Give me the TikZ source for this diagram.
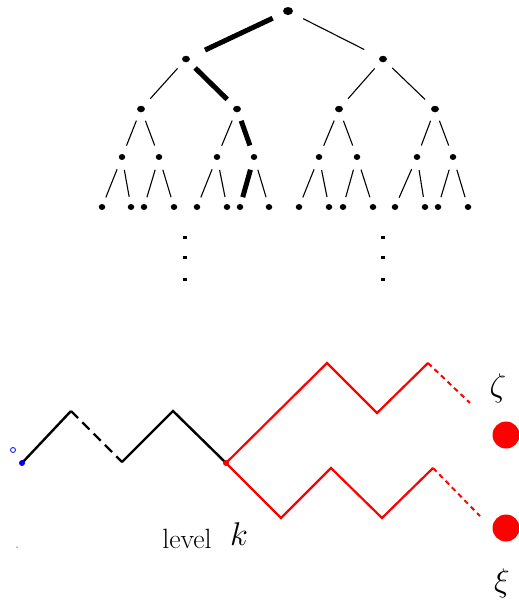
\documentclass[tikz,border=0pt]{standalone}
\usetikzlibrary{shapes.geometric}
\begin{document}
\begin{tikzpicture}[x=1pt,y=-1pt,
  bigdot/.style={ellipse,fill=black,inner sep=0pt,minimum width=10pt,minimum height=8pt},
  middot/.style={ellipse,fill=black,inner sep=0pt,minimum width=8pt,minimum height=6.5pt},
  smalldot/.style={ellipse,fill=black,inner sep=0pt,minimum width=6.5pt,minimum height=6pt},
  elldot/.style={rectangle,fill=black,inner sep=0pt,minimum width=4pt,minimum height=3pt},
  thinedge/.style={line width=1.1pt,shorten <=9pt,shorten >=9pt},
  thickedge/.style={line width=5pt,shorten <=9pt,shorten >=9pt},
  walk/.style={line width=2.4pt,line join=miter},
  redwalk/.style={line width=2.2pt,red,line join=miter},
  reddash/.style={line width=2pt,red,dash pattern=on 5pt off 4pt},
  blackdash/.style={line width=2.4pt,dash pattern=on 10pt off 6pt},
  lbl/.style={inner sep=0pt,anchor=center,font=\Huge}
]
\useasboundingbox (0,0) rectangle (519,603);
% ---------------- tree ----------------
\node[bigdot] (r) at (288,11) {};
\node[middot] (n0) at (186,59) {};
\node[middot] (n1) at (383,59) {};
\node[middot] (n00) at (141,109) {};
\node[middot] (n01) at (237,109) {};
\node[middot] (n10) at (339,109) {};
\node[middot] (n11) at (435,109) {};
\node[smalldot] (n000) at (122,157) {};
\node[smalldot] (n001) at (159,157) {};
\node[smalldot] (n010) at (217,157) {};
\node[smalldot] (n011) at (254,157) {};
\node[smalldot] (n100) at (319,157) {};
\node[smalldot] (n101) at (357,157) {};
\node[smalldot] (n110) at (417,157) {};
\node[smalldot] (n111) at (453,157) {};
\node[smalldot] (n0000) at (102,207) {};
\node[smalldot] (n0001) at (131,207) {};
\node[smalldot] (n0010) at (144,207) {};
\node[smalldot] (n0011) at (174,207) {};
\node[smalldot] (n0100) at (197,207) {};
\node[smalldot] (n0101) at (227,207) {};
\node[smalldot] (n0110) at (240,207) {};
\node[smalldot] (n0111) at (269,207) {};
\node[smalldot] (n1000) at (299,207) {};
\node[smalldot] (n1001) at (329,207) {};
\node[smalldot] (n1010) at (343,207) {};
\node[smalldot] (n1011) at (373,207) {};
\node[smalldot] (n1100) at (395,207) {};
\node[smalldot] (n1101) at (425,207) {};
\node[smalldot] (n1110) at (438,207) {};
\node[smalldot] (n1111) at (468,207) {};
% edges
\draw[thickedge,shorten <=12pt,shorten >=17pt] (r) -- (n0);
\draw[thinedge,shorten <=12pt,shorten >=17pt] (r) -- (n1);
\draw[thinedge,shorten <=9pt,shorten >=10pt] (n0) -- (n00);
\draw[thickedge,shorten <=9pt,shorten >=10pt] (n0) -- (n01);
\draw[thinedge,shorten <=9pt,shorten >=10pt] (n1) -- (n10);
\draw[thinedge,shorten <=9pt,shorten >=10pt] (n1) -- (n11);
\draw[thinedge] (n00) -- (n000);
\draw[thinedge] (n00) -- (n001);
\draw[thinedge] (n01) -- (n010);
\draw[thickedge] (n01) -- (n011);
\draw[thinedge] (n10) -- (n100);
\draw[thinedge] (n10) -- (n101);
\draw[thinedge] (n11) -- (n110);
\draw[thinedge] (n11) -- (n111);
\draw[thinedge,shorten <=10pt,shorten >=7pt] (n000) -- (n0000);
\draw[thinedge,shorten <=10pt,shorten >=7pt] (n000) -- (n0001);
\draw[thinedge,shorten <=10pt,shorten >=7pt] (n001) -- (n0010);
\draw[thinedge,shorten <=10pt,shorten >=7pt] (n001) -- (n0011);
\draw[thinedge,shorten <=10pt,shorten >=7pt] (n010) -- (n0100);
\draw[thinedge,shorten <=10pt,shorten >=7pt] (n010) -- (n0101);
\draw[thickedge,shorten <=10pt,shorten >=7pt] (n011) -- (n0110);
\draw[thinedge,shorten <=10pt,shorten >=7pt] (n011) -- (n0111);
\draw[thinedge,shorten <=10pt,shorten >=7pt] (n100) -- (n1000);
\draw[thinedge,shorten <=10pt,shorten >=7pt] (n100) -- (n1001);
\draw[thinedge,shorten <=10pt,shorten >=7pt] (n101) -- (n1010);
\draw[thinedge,shorten <=10pt,shorten >=7pt] (n101) -- (n1011);
\draw[thinedge,shorten <=10pt,shorten >=7pt] (n110) -- (n1100);
\draw[thinedge,shorten <=10pt,shorten >=7pt] (n110) -- (n1101);
\draw[thinedge,shorten <=10pt,shorten >=7pt] (n111) -- (n1110);
\draw[thinedge,shorten <=10pt,shorten >=7pt] (n111) -- (n1111);
% vertical ellipses
\node[elldot] (e1) at (185,237) {};
\node[elldot] (e2) at (185,257) {};
\node[elldot] (e3) at (185,279) {};
\node[elldot] (e4) at (383,237) {};
\node[elldot] (e5) at (383,257) {};
\node[elldot] (e6) at (383,279) {};
% ---------------- walks ----------------
\coordinate (a0) at (22,463);
\coordinate (a1) at (71,411);
\coordinate (a2) at (122,462);
\coordinate (a3) at (173,411);
\coordinate (k0) at (226,463);
\coordinate (u1) at (327,363);
\coordinate (u2) at (377,413);
\coordinate (u3) at (428,363);
\coordinate (u4) at (470,403);
\coordinate (l1) at (281,518);
\coordinate (l2) at (331,468);
\coordinate (l3) at (382,518);
\coordinate (l4) at (433,468);
\coordinate (l5) at (480,516);
\draw[walk] (a0) -- (a1);
\draw[blackdash] (a1) -- (a2);
\draw[walk] (a2) -- (a3) -- (k0);
\draw[redwalk] (k0) -- (u1) -- (u2) -- (u3);
\draw[reddash] (u3) -- (u4);
\draw[redwalk] (k0) -- (l1) -- (l2) -- (l3) -- (l4);
\draw[reddash] (l4) -- (l5);
\node[circle,fill=blue,inner sep=0pt,minimum size=6pt] (start) at (a0) {};
\node[circle,draw=blue,line width=0.8pt,inner sep=0pt,minimum size=5pt] (origin) at (13,450) {};
\node[circle,fill=red,inner sep=0pt,minimum size=6pt] (split) at (k0) {};
\node[circle,fill=red,inner sep=0pt,minimum size=27pt] (zetadot) at (506,435) {};
\node[circle,fill=red,inner sep=0pt,minimum size=27pt] (xidot) at (506,528) {};
\node[circle,fill=black!60,inner sep=0pt,minimum size=1.5pt] (speck) at (17,547) {};
% labels
\node[lbl,scale=1.12] (level) at (187,539) {level};
\node[lbl,scale=1.32] (k) at (239,534) {$k$};
\node[lbl,scale=1.32] (zeta) at (498,388) {$\zeta$};
\node[lbl,scale=1.32] (xi) at (502,583) {$\xi$};
\end{tikzpicture}
\end{document}
